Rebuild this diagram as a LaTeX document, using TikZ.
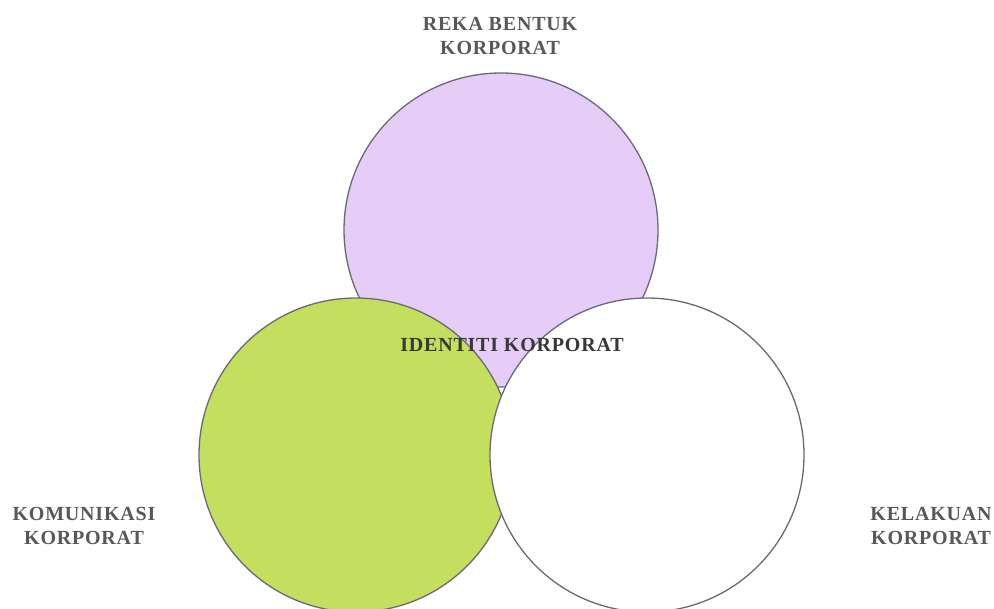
\documentclass[tikz,border=0pt]{standalone}
\usepackage{fontspec}
\setmainfont{Liberation Serif}[LetterSpace=4]
\usepackage{xcolor}
\usetikzlibrary{positioning}

\definecolor{lavender}{HTML}{E6CDF8}
\definecolor{limegreen}{HTML}{C4DF5E}
\definecolor{ringline}{HTML}{6C6878}
\definecolor{labelgray}{HTML}{585858}

\begin{document}
\begin{tikzpicture}[x=1pt, y=-1pt,
      font=\fontsize{20}{23.5}\selectfont\bfseries,
      ring/.style={circle, draw=ringline, line width=1.3pt, minimum size=314pt,
                   inner sep=0pt},
      caption/.style={align=center, text=labelgray, inner sep=0pt}]

    \useasboundingbox (0,0) rectangle (994,609);

    \node[ring, fill=lavender] (reka) at (501,230) {};
    \node[ring, fill=limegreen] (komunikasi) at (356,455) {};
    \node[ring, fill=white] (kelakuan) at (647,455) {};

    \node[caption] (rekalabel) at (500,36) {REKA BENTUK\\KORPORAT};
    \node[caption] (komlabel) at (84,526) {KOMUNIKASI\\KORPORAT};
    \node[caption] (kellabel) at (931,526) {KELAKUAN\\KORPORAT};

    \node[caption, text=black!78] (identiti) at (512,344.5) {IDENTITI KORPORAT};
  \end{tikzpicture}
\end{document}
